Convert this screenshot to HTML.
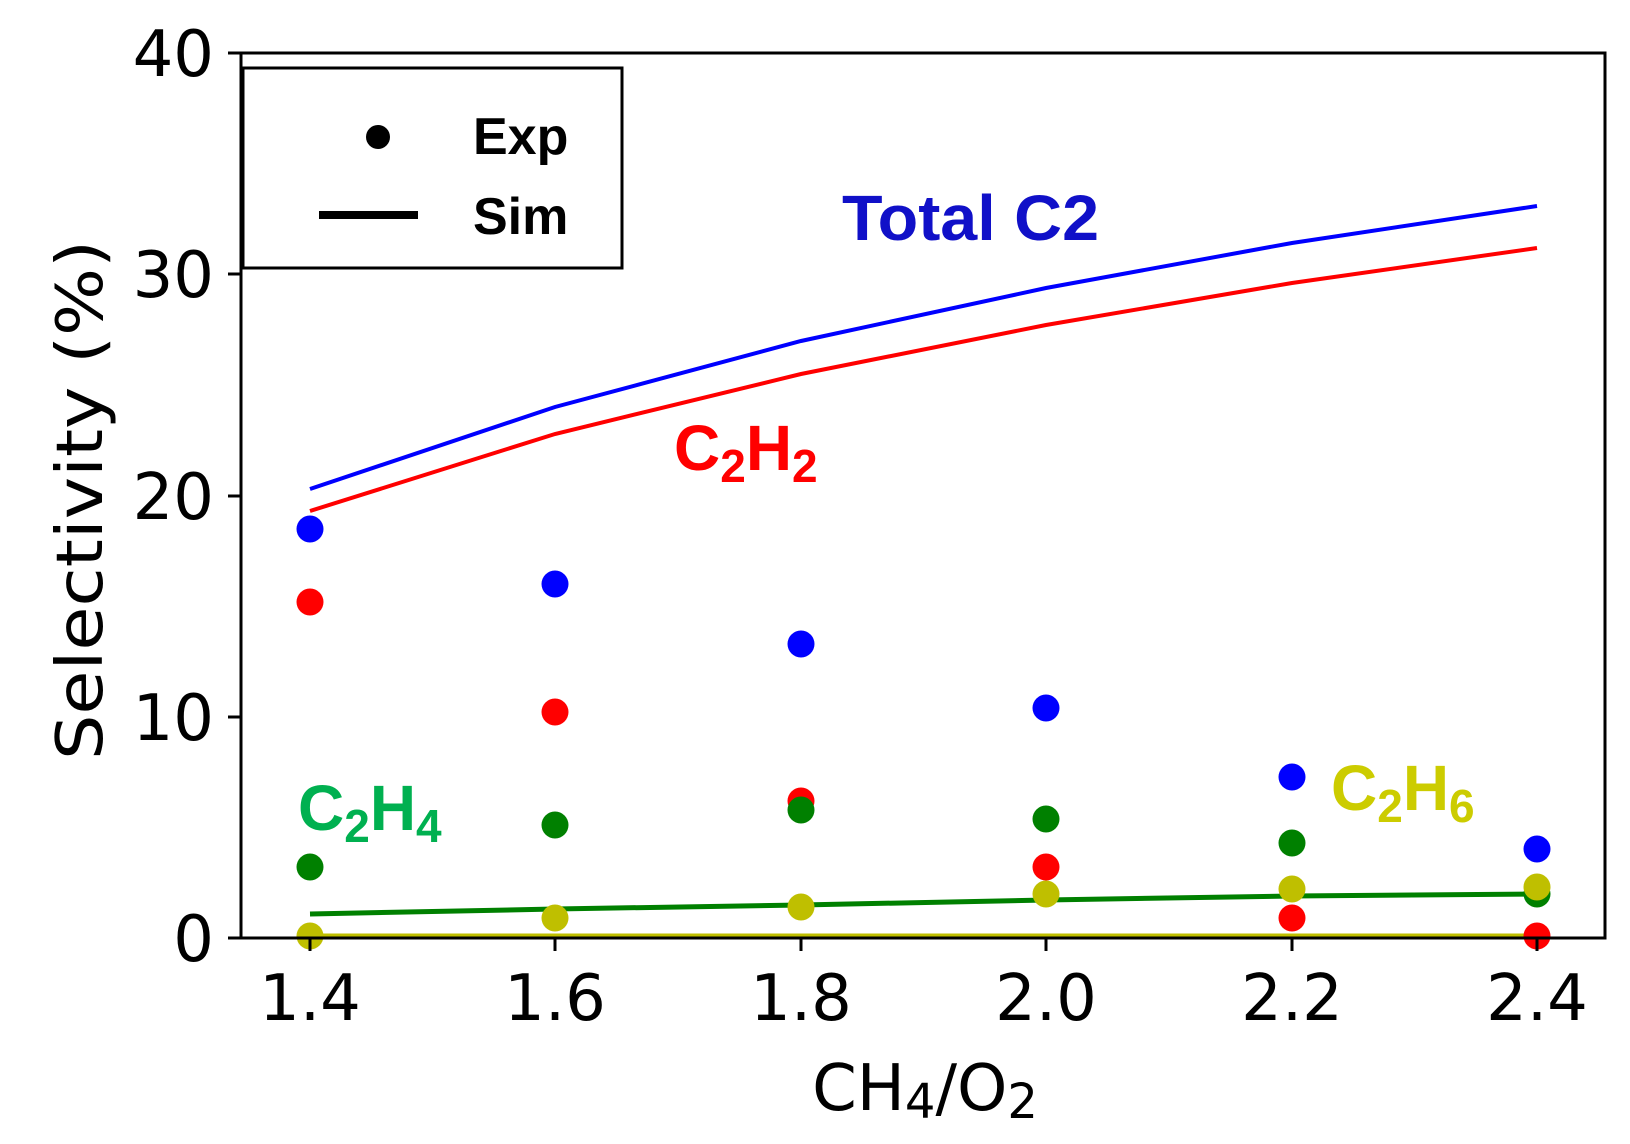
<!DOCTYPE html>
<html><head><meta charset="utf-8"><style>body{margin:0;background:#fff}svg{display:block}</style></head>
<body>
<svg width="1630" height="1144" viewBox="0 0 1630 1144" xmlns="http://www.w3.org/2000/svg" font-family="Liberation Sans, DejaVu Sans, sans-serif">
<rect width="1630" height="1144" fill="#fff"/>
<g fill="none" stroke-width="4">
<polyline stroke="#0000ff" points="310,489 555,407 801,341 1046,288 1292,243 1537,206"/>
<polyline stroke="#ff0000" points="310,511 555,434 801,374 1046,325 1292,283 1537,248"/>
<polyline stroke="#008000" stroke-width="5" points="310,914 555,909 801,905 1046,900 1292,896 1537,894"/>
<polyline stroke="#bfbf00" stroke-width="5" points="310,936 1537,936"/>
</g>
<g fill="#0000ff">
<circle cx="310" cy="529" r="13.5"/><circle cx="555" cy="584" r="13.5"/><circle cx="801" cy="644" r="13.5"/><circle cx="1046" cy="708" r="13.5"/><circle cx="1292" cy="777" r="13.5"/><circle cx="1537" cy="849" r="13.5"/>
</g>
<g fill="#ff0000">
<circle cx="310" cy="602" r="13.5"/><circle cx="555" cy="712" r="13.5"/><circle cx="801" cy="801" r="13.5"/><circle cx="1046" cy="867" r="13.5"/><circle cx="1292" cy="918" r="13.5"/><circle cx="1537" cy="936" r="13.5"/>
</g>
<g fill="#008000">
<circle cx="310" cy="867" r="13.5"/><circle cx="555" cy="825" r="13.5"/><circle cx="801" cy="810" r="13.5"/><circle cx="1046" cy="819" r="13.5"/><circle cx="1292" cy="843" r="13.5"/><circle cx="1537" cy="894" r="13.5"/>
</g>
<g fill="#bfbf00">
<circle cx="310" cy="936" r="13.5"/><circle cx="555" cy="918" r="13.5"/><circle cx="801" cy="907" r="13.5"/><circle cx="1046" cy="894" r="13.5"/><circle cx="1292" cy="889" r="13.5"/><circle cx="1537" cy="887" r="13.5"/>
</g>
<rect x="241" y="53" width="1364" height="885" fill="none" stroke="#000" stroke-width="3"/>
<g stroke="#000" stroke-width="3">
<line x1="228" y1="938" x2="241" y2="938"/><line x1="228" y1="717" x2="241" y2="717"/><line x1="228" y1="496" x2="241" y2="496"/><line x1="228" y1="274" x2="241" y2="274"/><line x1="228" y1="53" x2="241" y2="53"/>
<line x1="310" y1="938" x2="310" y2="951"/><line x1="555" y1="938" x2="555" y2="951"/><line x1="801" y1="938" x2="801" y2="951"/><line x1="1046" y1="938" x2="1046" y2="951"/><line x1="1292" y1="938" x2="1292" y2="951"/><line x1="1537" y1="938" x2="1537" y2="951"/>
</g>
<g font-size="64" fill="#000" text-anchor="end" font-family="DejaVu Sans, sans-serif">
<text x="214" y="961">0</text><text x="214" y="740">10</text><text x="214" y="519">20</text><text x="214" y="297">30</text><text x="214" y="76">40</text>
</g>
<g font-size="64" fill="#000" text-anchor="middle" font-family="DejaVu Sans, sans-serif">
<text x="310" y="1020">1.4</text><text x="555" y="1020">1.6</text><text x="801" y="1020">1.8</text><text x="1046" y="1020">2.0</text><text x="1292" y="1020">2.2</text><text x="1537" y="1020">2.4</text>
</g>
<text x="925" y="1110" font-size="64" text-anchor="middle" font-family="DejaVu Sans, sans-serif">CH<tspan font-size="48" dy="8">4</tspan><tspan dy="-8">/O</tspan><tspan font-size="48" dy="8">2</tspan></text>
<text transform="translate(102,500) rotate(-90)" font-size="64" text-anchor="middle" font-family="DejaVu Sans, sans-serif" textLength="520" lengthAdjust="spacingAndGlyphs">Selectivity (%)</text>
<rect x="243" y="68" width="379" height="200" fill="#fff" stroke="#000" stroke-width="3"/>
<circle cx="378" cy="137" r="12" fill="#000"/>
<line x1="319" y1="215" x2="418" y2="215" stroke="#000" stroke-width="8"/>
<g font-size="52" font-weight="bold">
<text x="473" y="154">Exp</text><text x="473" y="234">Sim</text>
</g>
<g font-weight="bold" font-size="64">
<text x="842" y="240" fill="#1010c8" textLength="257" lengthAdjust="spacingAndGlyphs">Total C2</text>
<text x="674" y="470" fill="#ff0000">C<tspan font-size="46" dy="12">2</tspan><tspan dy="-12">H</tspan><tspan font-size="46" dy="12">2</tspan></text>
<text x="298" y="830" fill="#00b050">C<tspan font-size="46" dy="12">2</tspan><tspan dy="-12">H</tspan><tspan font-size="46" dy="12">4</tspan></text>
<text x="1331" y="810" fill="#cccc00">C<tspan font-size="46" dy="12">2</tspan><tspan dy="-12">H</tspan><tspan font-size="46" dy="12">6</tspan></text>
</g>
</svg>
</body></html>
